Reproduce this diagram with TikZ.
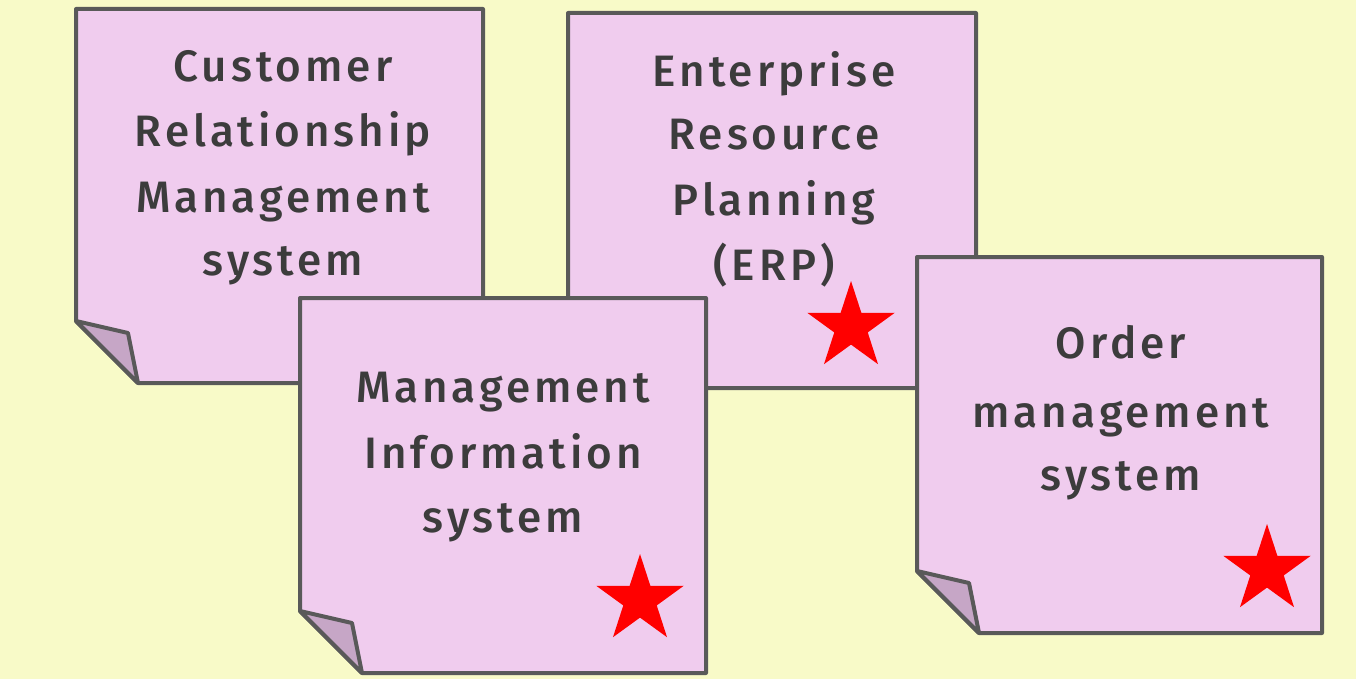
\documentclass[tikz,border=0pt]{standalone}
\usepackage{fontspec}
\setmainfont{Fira Sans}[UprightFont=* Medium, LetterSpace=9]
\definecolor{bgyellow}{HTML}{F8FAC8}
\definecolor{notepink}{HTML}{F0CCEE}
\definecolor{foldmauve}{HTML}{C6A6C6}
\definecolor{edgegray}{HTML}{595959}
\definecolor{inkgray}{HTML}{3C3C3C}
\definecolor{starred}{HTML}{FF0000}
\tikzset{
  notebody/.style={fill=notepink, draw=edgegray, line width=4pt, line join=round},
  notefold/.style={fill=foldmauve, draw=edgegray, line width=4pt, line join=round},
  txt/.style={anchor=base, text=inkgray, inner sep=0pt, font=\fontsize{44}{52}\selectfont},
  starmark/.style={fill=starred, draw=none}
}
\newcommand{\stickynote}[5]{% name, L, T, R, B
  \draw[notebody] (#2,#3) -- (#4,#3) -- (#4,#5) -- ({#2+62},#5) -- (#2,{#5-62}) -- cycle;
  \draw[notefold] (#2,{#5-62}) -- ({#2+52},{#5-50}) -- ({#2+62},#5) -- cycle;
  \coordinate (#1) at ({(#2+#4)/2},{(#3+#5)/2});
}
\newcommand{\redstar}[3]{% name, cx, cy
  \fill[starmark] (#2,#3) +(90:-46) -- +(126:-17.6) -- +(162:-46) -- +(198:-17.6) -- +(234:-46) -- +(270:-17.6) -- +(306:-46) -- +(342:-17.6) -- +(18:-46) -- +(54:-17.6) -- cycle;
  \coordinate (#1) at (#2,#3);
}
\begin{document}
\begin{tikzpicture}[x=1pt,y=-1pt]
\fill[bgyellow] (0,0) rectangle (1356,679);
\useasboundingbox (0,0) rectangle (1356,679);
% CRM
\stickynote{crm}{76}{9}{483}{383}
\node[txt] (crm1) at (283,82) {Customer};
\node[txt] (crm2) at (283,147) {Relationship};
\node[txt] (crm3) at (283,212) {Management};
\node[txt] (crm4) at (283,275) {system};
% ERP
\stickynote{erp}{568}{13}{976}{388}
\node[txt] (erp1) at (774,87) {Enterprise};
\node[txt] (erp2) at (774,150) {Resource};
\node[txt] (erp3) at (774,215) {Planning};
\node[txt] (erp4) at (774,280) {(ERP)};
\redstar{erpstar}{851}{327}
% MIS
\stickynote{mis}{300}{298}{706}{673}
\node[txt] (mis1) at (503,402) {Management};
\node[txt] (mis2) at (503,468) {Information};
\node[txt] (mis3) at (503,532) {system};
\redstar{misstar}{640}{600}
% Order
\stickynote{oms}{917}{257}{1322}{633}
\node[txt] (oms1) at (1121,358) {Order};
\node[txt] (oms2) at (1121,427) {management};
\node[txt] (oms3) at (1121,490) {system};
\redstar{omsstar}{1267}{570}
\end{tikzpicture}
\end{document}
